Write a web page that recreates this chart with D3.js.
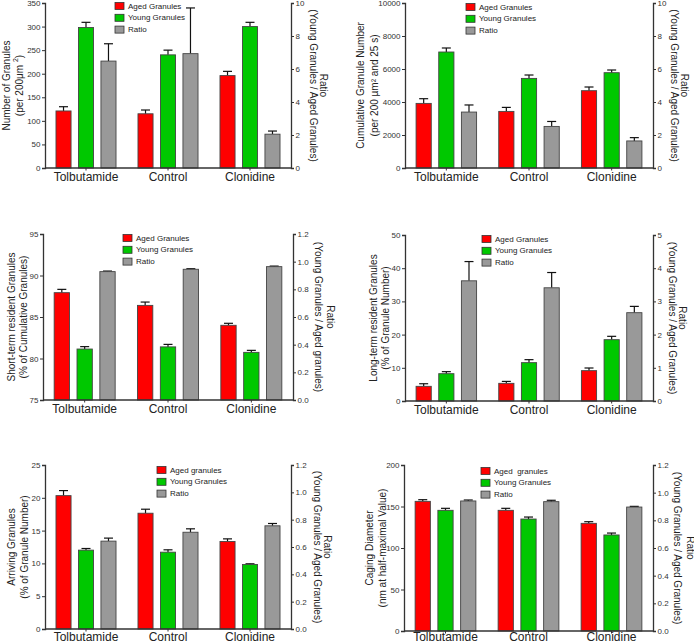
<!DOCTYPE html>
<html><head><meta charset="utf-8">
<script src="https://cdn.jsdelivr.net/npm/d3@7"></script>
<style>body{margin:0;background:#fff} svg{display:block;font-family:"Liberation Sans",Arial,sans-serif}</style>
</head><body><svg id="c" width="694" height="643"></svg>
<script>
const categories = ["Tolbutamide", "Control", "Clonidine"];
const seriesKeys = ["aged", "young", "ratio"];
const colors = ["#ff0000", "#00c800", "#999999"];

// Panel 1: Number of granules
const p1Aged = [121, 115, 196], p1AgedErr = [9, 8, 9];
const p1Young = [298, 240, 300], p1YoungErr = [11, 10, 9];
const p1Ratio = [6.48, 6.93, 2.05], p1RatioErr = [1.05, 2.77, 0.19];
// Panel 2: Cumulative granule number
const p2Aged = [3915, 3430, 4685], p2AgedErr = [285, 243, 224];
const p2Young = [7030, 5430, 5776], p2YoungErr = [243, 206, 163];
const p2Ratio = [3.39, 2.52, 1.64], p2RatioErr = [0.43, 0.30, 0.20];
// Panel 3: Short-term resident granules
const p3Aged = [87.93, 86.4, 84.0], p3AgedErr = [0.4, 0.4, 0.24];
const p3Young = [81.14, 81.4, 80.74], p3YoungErr = [0.29, 0.3, 0.24];
const p3Ratio = [0.928, 0.945, 0.964], p3RatioErr = [0.004, 0.004, 0.004];
// Panel 4: Long-term resident granules
const p4Aged = [4.42, 5.32, 9.14], p4AgedErr = [0.78, 0.58, 0.8];
const p4Young = [8.23, 11.55, 18.47], p4YoungErr = [0.61, 0.9, 1.01];
const p4Ratio = [3.62, 3.41, 2.66], p4RatioErr = [0.58, 0.46, 0.19];
// Panel 5: Arriving granules
const p5Aged = [20.33, 17.65, 13.34], p5AgedErr = [0.77, 0.61, 0.4];
const p5Young = [12.02, 11.71, 9.84], p5YoungErr = [0.25, 0.36, 0.1];
const p5Ratio = [0.643, 0.708, 0.755], p5RatioErr = [0.022, 0.025, 0.017];
// Panel 6: Caging diameter
const p6Aged = [156.2, 145.4, 129.7], p6AgedErr = [2.0, 2.4, 2.0];
const p6Young = [145.4, 134.9, 115.7], p6YoungErr = [2.4, 2.4, 2.3];
const p6Ratio = [0.940, 0.935, 0.896], p6RatioErr = [0.007, 0.010, 0.005];

const legendA = ["Aged Granules", "Young Granules", "Ratio"];
const legendB = ["Aged granules", "Young Granules", "Ratio"];
const legendC = ["Aged  granules", "Young Granules", "Ratio"];

const p1LeftTicks = [0, 50, 100, 150, 200, 250, 300, 350];
const p1RightTicks = [0, 2, 4, 6, 8, 10];
const p2LeftTicks = [0, 2000, 4000, 6000, 8000, 10000];
const p2RightTicks = [0, 2, 4, 6, 8, 10];
const p3LeftTicks = [75, 80, 85, 90, 95];
const p3RightTicks = [0, 0.2, 0.4, 0.6, 0.8, 1.0, 1.2];
const p4LeftTicks = [0, 10, 20, 30, 40, 50];
const p4RightTicks = [0, 1, 2, 3, 4, 5];
const p5LeftTicks = [0, 5, 10, 15, 20, 25];
const p5RightTicks = [0, 0.2, 0.4, 0.6, 0.8, 1.0, 1.2];
const p6LeftTicks = [0, 50, 100, 150, 200];
const p6RightTicks = [0, 0.2, 0.4, 0.6, 0.8, 1.0, 1.2];

const panels = [
  {L:45, R:291, T:3, B:168, yd:[0,350], yt:p1LeftTicks, yf:d3.format("d"), rd:[0,10], rt:p1RightTicks, rf:d3.format("d"),
   vals:[p1Aged,p1Young,p1Ratio], errs:[p1AgedErr,p1YoungErr,p1RatioErr], leg:legendA, lx:115, ly:6,
   yl:["Number of Granules", "SUP"], ylo:[-39,-26], rl:["Ratio","(Young Granules / Aged Granules)"], rlo:[32,22]},
  {L:405, R:653, T:3, B:168, yd:[0,10000], yt:p2LeftTicks, yf:d3.format("d"), rd:[0,10], rt:p2RightTicks, rf:d3.format("d"),
   vals:[p2Aged,p2Young,p2Ratio], errs:[p2AgedErr,p2YoungErr,p2RatioErr], leg:legendA, lx:466, ly:7,
   yl:["Cumulative Granule Number", "(per 200 µm² and 25 s)"], ylo:[-45,-31], rl:["Ratio","(Young Granules / Aged Granules)"], rlo:[31,21]},
  {L:43, R:293, T:234, B:400, yd:[75,95], yt:p3LeftTicks, yf:d3.format("d"), rd:[0,1.2], rt:p3RightTicks, rf:d3.format(".1f"),
   vals:[p3Aged,p3Young,p3Ratio], errs:[p3AgedErr,p3YoungErr,p3RatioErr], leg:legendA, lx:123, ly:238,
   yl:["Short-term resident Granules", "(% of Cumulative Granules)"], ylo:[-32,-20], rl:["Ratio","(Young Granules / Aged granules)"], rlo:[37,25]},
  {L:405, R:653, T:235, B:401, yd:[0,50], yt:p4LeftTicks, yf:d3.format("d"), rd:[0,5], rt:p4RightTicks, rf:d3.format("d"),
   vals:[p4Aged,p4Young,p4Ratio], errs:[p4AgedErr,p4YoungErr,p4RatioErr], leg:legendA, lx:482, ly:239,
   yl:["Long-term resident Granules", "(% of Granule Number)"], ylo:[-32,-20], rl:["Ratio","(Young Granules / Aged Granules)"], rlo:[29,19]},
  {L:45, R:291, T:465, B:629, yd:[0,25], yt:p5LeftTicks, yf:d3.format("d"), rd:[0,1.2], rt:p5RightTicks, rf:d3.format(".1f"),
   vals:[p5Aged,p5Young,p5Ratio], errs:[p5AgedErr,p5YoungErr,p5RatioErr], leg:legendB, lx:157, ly:470,
   yl:["Arriving Granules", "(% of Granule Number)"], ylo:[-34,-21], rl:["Ratio","(Young Granules / Aged Granules)"], rlo:[36,26]},
  {L:404, R:653, T:465, B:631, yd:[0,200], yt:p6LeftTicks, yf:d3.format("d"), rd:[0,1.2], rt:p6RightTicks, rf:d3.format(".1f"),
   vals:[p6Aged,p6Young,p6Ratio], errs:[p6AgedErr,p6YoungErr,p6RatioErr], leg:legendC, lx:481, ly:471,
   yl:["Caging Diameter", "(nm at half-maximal Value)"], ylo:[-35,-22], rl:["Ratio","(Young Granules / Aged Granules)"], rlo:[37,24]}
];

const svg = d3.select("#c");
const ink = "#222";

panels.forEach(p => {
  const g = svg.append("g");
  const x0 = d3.scaleBand().domain(categories).range([p.L, p.R]).paddingInner(0.268).paddingOuter(0.134);
  const x1 = d3.scaleBand().domain(seriesKeys).range([0, x0.bandwidth()]).paddingInner(0.33).paddingOuter(0);
  const yL = d3.scaleLinear().domain(p.yd).range([p.B, p.T]);
  const yR = d3.scaleLinear().domain(p.rd).range([p.B, p.T]);
  const scales = [yL, yL, yR];
  const base = [p.yd[0], p.yd[0], p.rd[0]];

  // bars
  seriesKeys.forEach((k, si) => {
    const ys = scales[si];
    categories.forEach((c, ci) => {
      const v = p.vals[si][ci], e = p.errs[si][ci];
      const bx = x0(c) + x1(k), bw = x1.bandwidth();
      const cx = bx + bw / 2;
      g.append("line").attr("x1", cx).attr("x2", cx).attr("y1", ys(v)).attr("y2", ys(v + e))
        .attr("stroke", "#111").attr("stroke-width", 1.2);
      g.append("line").attr("x1", cx - 4.5).attr("x2", cx + 4.5).attr("y1", ys(v + e)).attr("y2", ys(v + e))
        .attr("stroke", "#111").attr("stroke-width", 1.2);
      g.append("rect").attr("x", bx).attr("y", ys(v)).attr("width", bw).attr("height", ys(base[si]) - ys(v))
        .attr("fill", colors[si]).attr("stroke", "#444").attr("stroke-width", 0.9);
    });
  });

  // axes
  const axL = d3.axisLeft(yL).tickValues(p.yt).tickFormat(p.yf).tickSize(3).tickPadding(1.5);
  const axR = d3.axisRight(yR).tickValues(p.rt).tickFormat(p.rf).tickSize(3).tickPadding(1.5);
  const axX = d3.axisBottom(x0).tickSize(2.5).tickFormat("");
  const gl = g.append("g").attr("transform", `translate(${p.L},0)`).call(axL);
  const gr = g.append("g").attr("transform", `translate(${p.R},0)`).call(axR);
  const gx = g.append("g").attr("transform", `translate(0,${p.B})`).call(axX);
  [gl, gr, gx].forEach(a => {
    a.select(".domain").attr("stroke", "#333").attr("stroke-width", 1.3);
    a.selectAll(".tick line").attr("stroke", "#333").attr("stroke-width", 1);
    a.selectAll(".tick text").attr("fill", "#333").attr("font-size", 8).attr("font-family", "Liberation Sans, Arial, sans-serif");
  });
  gx.select(".domain").attr("d", `M${p.L},0H${p.R}`);

  // category labels (kept inside the 643px frame)
  categories.forEach(c => {
    g.append("text").attr("x", x0(c) + x0.bandwidth() / 2).attr("y", Math.min(p.B + 12.5, 641))
      .attr("text-anchor", "middle").attr("font-size", 12).attr("fill", ink).text(c);
  });

  // legend
  p.leg.forEach((name, i) => {
    const yy = p.ly + i * 11.8;
    g.append("rect").attr("x", p.lx).attr("y", yy - 3.5).attr("width", 9).attr("height", 7)
      .attr("fill", colors[i]).attr("stroke", "#333").attr("stroke-width", 0.8);
    g.append("text").attr("x", p.lx + 13).attr("y", yy).attr("dominant-baseline", "central")
      .attr("font-size", 8).attr("fill", ink).style("white-space", "pre").text(name);
  });

  // left y label
  const cy = (p.T + p.B) / 2;
  p.yl.forEach((line, i) => {
    const t = g.append("text").attr("transform", `translate(${p.L + p.ylo[i]},${cy}) rotate(-90)`)
      .attr("text-anchor", "middle").attr("dominant-baseline", "central").attr("font-size", 10).attr("fill", ink);
    if (line === "SUP") {
      t.append("tspan").text("(per 200μm ");
      t.append("tspan").attr("font-size", 7).attr("dy", -4).text("2");
      t.append("tspan").attr("dy", 4).text(")");
    } else t.text(line);
  });
  // right y label
  p.rl.forEach((line, i) => {
    g.append("text").attr("transform", `translate(${p.R + p.rlo[i]},${cy}) rotate(90)`)
      .attr("text-anchor", "middle").attr("dominant-baseline", "central").attr("font-size", 10).attr("fill", ink).text(line);
  });
});
</script></body></html>
